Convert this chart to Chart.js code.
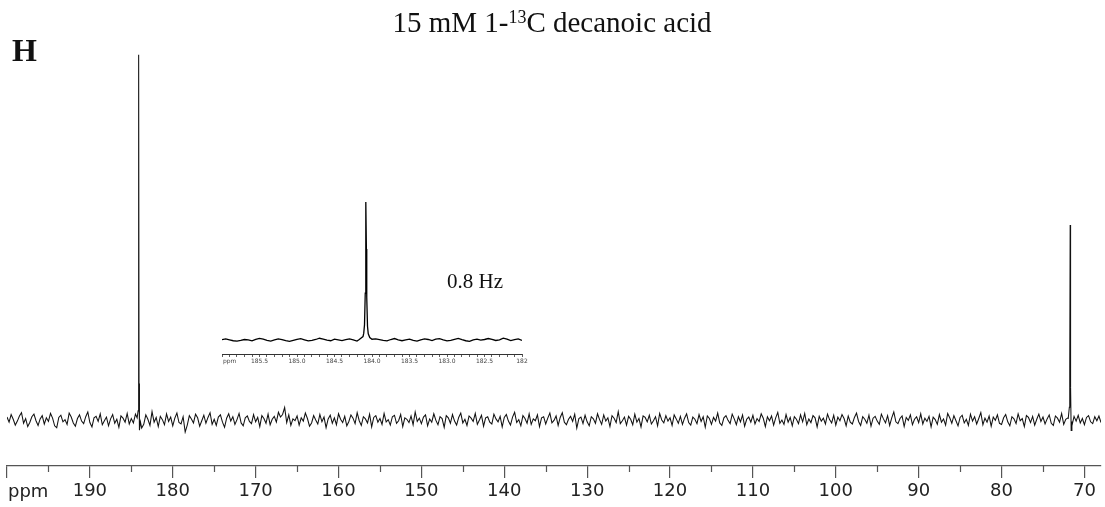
<!DOCTYPE html>
<html>
<head>
<meta charset="utf-8">
<script src="https://cdn.jsdelivr.net/npm/chart.js@4.4.1/dist/chart.umd.min.js"></script>
<style>
  html, body { margin: 0; padding: 0; background: #fff; }
  #wrap { position: relative; width: 1105px; height: 507px; }
  #main { position: absolute; left: 0; top: 0; }
  #inset { position: absolute; left: 200px; top: 190px; }
</style>
</head>
<body>
<div id="wrap">
  <canvas id="main" width="1105" height="507"></canvas>
  <canvas id="inset" width="340" height="180"></canvas>
</div>
<script>
// main spectrum: baseline noise sampled every 0.25 ppm from 200.00 down to 68.00 (20 per row = 5 ppm)
const mainStart = 200.0;
const mainStep = 0.25;
const mainNoise = [
  0.8, -0.6, 1.5, 0.2, -1.4, -0.3, 1.1, 2.0, -0.9, 0.4, -1.8, -0.7, 0.9, 1.6, -0.2, -1.5, 0.3, 1.2, -1.1, 0.6,
  -0.4, 1.8, 0.5, -1.6, -2.1, 0.7, 1.3, -0.5, 0.1, -1.2, 1.9, 0.8, -0.8, -1.7, 0.4, 1.4, -0.3, -1.0, 0.9, 2.2,
  -0.7, -1.9, 0.6, 1.0, -0.4, 1.7, -1.3, -0.2, 0.8, -1.6, 0.3, 1.5, -0.9, 0.2, -2.0, 1.1, 0.5, -0.6, 1.8, -1.1,
  0.4, -0.8, 1.6, 0.9, 0.0, -2.2, -1.2, 1.4, 0.2, -1.5, 2.3, -0.6, 0.7, -1.8, 1.0, 0.1, -1.3, 1.7, -0.4, 0.8,
  -1.6, 0.5, 1.9, -0.7, -1.1, 0.9, -3.3, -1.4, 1.2, 0.3, -0.8, 1.6, 0.6, -1.7, -0.2, 1.3, -0.9, 0.7, 2.0, -1.2,
  0.2, -1.5, 0.8, 1.4, -0.6, -2.0, 0.5, 1.7, -0.3, 0.9, -1.2, 0.1, 1.8, -0.8, -1.6, 0.6, 1.1, -0.4, -1.0, 1.5,
  -0.5, 0.7, -1.8, 1.2, 0.4, -0.9, 1.6, -1.3, 0.2, 1.0, -0.6, 2.1, 0.8, 1.5, 3.4, -0.7, 1.4, -1.5, 0.3, -0.2,
  1.1, -1.4, 0.6, -0.3, 1.9, 0.4, -1.7, -0.8, 1.2, 0.0, -1.1, 1.5, -0.5, 0.8, -2.1, 0.3, 1.3, -0.9, 0.6, -1.3,
  1.7, 0.2, -0.7, 1.0, -1.6, -0.4, 1.4, 0.5, -1.0, 2.0, -0.2, -1.5, 0.9, 0.3, -0.8, 1.6, -1.9, 0.7, 1.2, -0.6,
  0.4, -1.2, 1.8, -0.5, 0.1, -1.4, 0.9, 1.3, -0.9, -0.2, 1.5, -1.8, 0.6, 0.2, -0.7, 1.1, -1.3, 2.2, -0.4, 0.5,
  -1.0, 0.8, 1.4, -1.6, 0.3, -0.6, 1.7, -0.1, -1.3, 0.9, 0.4, -2.0, 1.2, 0.6, -0.9, 1.5, -0.3, -1.4, 0.7, 1.9,
  -0.8, 0.2, -1.5, 1.1, 0.5, -0.4, 1.8, -1.2, 0.0, 1.3, -1.7, 0.6, 0.9, -0.6, -1.1, 1.6, 0.3, -0.5, 1.0, -1.9,
  0.7, 1.5, -0.3, -1.4, 0.8, 2.1, -0.7, 0.1, -1.6, 1.2, 0.4, -0.9, 1.7, -1.2, 0.3, -0.2, 1.4, -1.8, 0.6, 0.9,
  -1.1, 0.5, 1.9, -0.8, -0.1, 1.1, -1.5, 0.7, 2.0, -0.6, -1.3, 0.2, 1.0, -0.4, 1.6, -2.2, 0.4, 0.8, -1.0, 1.3,
  -0.5, -1.6, 0.9, 0.3, -0.9, 1.7, 0.1, -1.2, 1.4, -0.3, 0.6, -1.8, 1.2, 0.5, -0.7, 2.3, -1.0, -0.2, 0.8, -1.4,
  1.0, 0.2, -1.3, 1.6, -0.6, 0.4, -1.9, 1.1, 0.7, -0.5, 1.3, -1.1, -0.2, 0.9, -1.6, 1.8, 0.0, -0.8, 1.2, -0.3,
  0.6, -1.5, 1.4, 0.3, -0.9, 1.0, -1.2, 0.5, 1.7, -0.7, -1.4, 0.8, 0.2, -1.0, 1.5, -0.4, 0.9, -2.0, 1.1, 0.4,
  -1.2, 0.7, -0.3, 1.9, -0.8, -1.5, 0.6, 1.2, -0.1, -1.0, 1.6, 0.3, -1.3, 0.9, -0.5, 1.4, -1.7, 0.2, 0.8, -0.6,
  1.3, -1.1, 0.4, -0.4, 1.7, 0.5, -1.8, 0.9, -0.2, 1.1, -1.4, 0.6, 2.1, -0.9, 0.0, -1.2, 1.5, -0.6, 0.7, -1.6,
  0.9, 0.2, -1.0, 1.4, -0.5, 1.8, -1.3, 0.3, -0.7, 1.2, 0.6, -1.9, 1.0, -0.3, 0.5, -1.1, 1.6, 0.1, -0.8, 1.3,
  -1.4, 0.8, -0.2, 1.5, 0.4, -1.6, 1.1, -0.6, -1.1, 0.7, 1.9, -0.4, -1.5, 0.9, 0.2, -0.9, 1.3, -1.7, 0.5, 1.0,
  -0.3, -1.2, 1.6, 0.3, -0.8, 1.2, -1.5, 0.6, 2.2, -0.5, -1.0, 0.4, 1.1, -1.8, 0.7, -0.1, 1.4, -1.3, 0.2, 0.9,
  -0.7, 1.7, -1.1, 0.5, -0.4, 1.0, -1.9, 0.8, 0.1, -1.2, 1.5, -0.6, 0.3, -1.4, 1.8, 0.6, -0.9, 1.2, -0.2, -1.6,
  0.7, 1.3, -0.8, 0.2, -1.5, 1.6, -0.3, 0.9, -1.1, 0.4, 2.0, -1.3, 0.5, -0.6, 1.1, -1.7, 0.8, -0.1, 1.4, -0.9,
  -1.2, 0.6, 1.5, -0.5, -1.6, 0.9, 0.3, -1.0, 1.7, -0.2, 0.4, -1.8, 1.2, 0.7, -0.7, 1.0, -1.4, 0.2, 1.6, -0.4,
  0.8, -1.1, 0.3, 1.4, -0.9, -1.5, 1.1, 0.5, -0.6, 1.8, -1.2, 0.2, 0.6, 0.0, -1.6, 1.0, -0.3, 1.3, -0.8, 0.4,
  -1.3, 0.7, 1.2, -0.5, -1.0, 0.9, -0.2, 1.1, -0.7
];
// carboxyl peak (~184.1 ppm) and second peak (~71.7 ppm)
const peakAPpm = [184.30, 184.18, 184.13, 184.10, 184.07, 184.02, 183.90];
const peakAInt = [0.6, 2.5, 12, 100, 10, -2.8, -0.5];
const peakBPpm = [71.95, 71.82, 71.77, 71.72, 71.67, 71.60, 71.52];
const peakBInt = [0.5, 3.5, 14, 53.4, 9, -2.9, -0.4];

const majorTicks = [200, 190, 180, 170, 160, 150, 140, 130, 120, 110, 100, 90, 80, 70];
const tickLabels = ['ppm', '190', '180', '170', '160', '150', '140', '130', '120', '110', '100', '90', '80', '70'];
const minorTicks = [195, 185, 175, 165, 155, 145, 135, 125, 115, 105, 95, 85, 75];

// inset: 186.0 to 182.0 ppm every 0.05 ppm
const insetStart = 186.0;
const insetStep = 0.05;
const insetNoise = [
  0.3, 0.9, 0.2, -0.5, -0.8, -0.3, 0.4, 0.1, -0.6, 0.5,
  1.2, 0.6, -0.2, -0.7, 0.1, 0.8, 0.3, -0.4, -0.9, -0.2,
  0.5, 1.0, 0.2, -0.6, -0.3, 0.4, 1.3, 0.7, 0.0, -0.5,
  0.6, 0.1, -0.4, 0.3, 0.9, 0.2, -0.7, -0.3, 0.0, 0.0,
  0.0, 0.8, 0.3, -0.2, -0.6, 0.4, 1.1, 0.2, -0.5, 0.1,
  0.7, -0.3, -0.8, 0.2, 0.9, 0.4, -0.4, 0.6, 1.0, 0.1,
  -0.6, -0.2, 0.5, 1.2, 0.3, -0.5, -0.9, 0.2, 0.7, -0.1,
  0.4, 1.1, 0.5, -0.3, 0.2, 1.4, 0.6, -0.4, 0.3, 0.8,
  -0.2
];
const insetPeakPpm = [184.17, 184.12, 184.11, 184.10, 184.09, 184.085, 184.08, 184.075, 184.07, 184.06, 184.05, 184.03, 184.00];
const insetPeakInt = [0.4, 2.5, 5, 11, 34, 70, 100, 66, 31, 10, 4.5, 1.8, 0.6];
const insetLabelValues = [186, 185.5, 185, 184.5, 184, 183.5, 183, 182.5, 182];
const insetLabels = ['ppm', '185.5', '185.0', '184.5', '184.0', '183.5', '183.0', '182.5', '182'];

const titleParts = ['15 mM 1-', '13', 'C decanoic acid'];
const panelLetter = 'H';
const widthNote = '0.8 Hz';

function buildTrace(start, step, noise, peaks) {
  const windows = peaks.map(([p]) => [Math.min(...p), Math.max(...p)]);
  const pts = [];
  noise.forEach((v, i) => {
    const x = +(start - i * step).toFixed(3);
    if (windows.some(([lo, hi]) => x >= lo - 1e-9 && x <= hi + 1e-9)) return;
    pts.push({ x, y: v });
  });
  peaks.forEach(([p, h]) => p.forEach((x, i) => pts.push({ x, y: h[i] })));
  return pts.sort((a, b) => b.x - a.x);
}

const mainText = {
  id: 'mainText',
  afterDraw(chart) {
    const { ctx, chartArea, scales } = chart;
    const x = scales.x;
    ctx.save();
    ctx.strokeStyle = '#555';
    ctx.lineWidth = 1.2;
    ctx.beginPath();
    minorTicks.forEach(v => {
      const px = Math.round(x.getPixelForValue(v)) + 0.5;
      ctx.moveTo(px, chartArea.bottom);
      ctx.lineTo(px, chartArea.bottom + 6);
    });
    ctx.stroke();

    ctx.fillStyle = '#222';
    ctx.textAlign = 'left';
    ctx.textBaseline = 'alphabetic';
    ctx.font = '18px "DejaVu Sans"';
    ctx.fillText(tickLabels[0], x.getPixelForValue(majorTicks[0]) + 1, 497);

    // title with superscript
    ctx.fillStyle = '#111';
    const big = '29px "Liberation Serif"', small = '18px "Liberation Serif"';
    ctx.font = big;
    const w1 = ctx.measureText(titleParts[0]).width;
    const w3 = ctx.measureText(titleParts[2]).width;
    ctx.font = small;
    const w2 = ctx.measureText(titleParts[1]).width;
    let tx = 552 - (w1 + w2 + w3) / 2;
    ctx.font = big;
    ctx.fillText(titleParts[0], tx, 32);
    tx += w1;
    ctx.font = small;
    ctx.fillText(titleParts[1], tx, 23);
    tx += w2;
    ctx.font = big;
    ctx.fillText(titleParts[2], tx, 32);

    ctx.font = 'bold 32px "Liberation Serif"';
    ctx.fillText(panelLetter, 12, 61);

    ctx.font = '21px "Liberation Serif"';
    ctx.fillText(widthNote, 447, 288);
    ctx.restore();
  }
};

new Chart(document.getElementById('main'), {
  type: 'line',
  data: {
    datasets: [{
      data: buildTrace(mainStart, mainStep, mainNoise, [[peakAPpm, peakAInt], [peakBPpm, peakBInt]]),
      borderColor: '#111',
      borderWidth: 1.05,
      pointRadius: 0,
      tension: 0,
      fill: false,
    }],
  },
  options: {
    responsive: false,
    animation: false,
    devicePixelRatio: 1,
    layout: { padding: { left: 7, right: 4, top: 30, bottom: 0 } },
    plugins: { legend: { display: false }, tooltip: { enabled: false }, title: { display: false } },
    scales: {
      x: {
        type: 'linear',
        reverse: true,
        min: 68,
        max: 200,
        afterBuildTicks: s => { s.ticks = majorTicks.map(v => ({ value: v })); },
        afterFit: s => { s.height = 41; },
        ticks: {
          autoSkip: false,
          maxRotation: 0,
          padding: 3,
          color: '#222',
          font: { family: 'DejaVu Sans', size: 18 },
          callback: v => {
            const i = majorTicks.indexOf(v);
            return i > 0 ? tickLabels[i] : '';
          },
        },
        grid: { drawOnChartArea: false, tickLength: 12, color: '#555', lineWidth: 1.2 },
        border: { display: true, color: '#555', width: 1.2 },
      },
      y: { display: false, min: -12.6, max: 106.8 },
    },
  },
  plugins: [mainText],
});

const insetText = {
  id: 'insetText',
  afterDraw(chart) {
    const { ctx, scales } = chart;
    ctx.save();
    ctx.fillStyle = '#444';
    ctx.font = '6px "DejaVu Sans"';
    ctx.textAlign = 'left';
    ctx.textBaseline = 'alphabetic';
    ctx.fillText(insetLabels[0], scales.x.getPixelForValue(insetLabelValues[0]) + 1, 173);
    ctx.restore();
  }
};

new Chart(document.getElementById('inset'), {
  type: 'line',
  data: {
    datasets: [{
      data: buildTrace(insetStart, insetStep, insetNoise, [[insetPeakPpm, insetPeakInt]]),
      borderColor: '#000',
      borderWidth: 1.3,
      pointRadius: 0,
      tension: 0,
      fill: false,
    }],
  },
  options: {
    responsive: false,
    animation: false,
    devicePixelRatio: 1,
    layout: { padding: { left: 22, right: 18, top: 10, bottom: 0 } },
    plugins: { legend: { display: false }, tooltip: { enabled: false } },
    scales: {
      x: {
        type: 'linear',
        reverse: true,
        min: 182,
        max: 186,
        afterFit: s => { s.height = 16; },
        ticks: {
          stepSize: 0.1,
          autoSkip: false,
          maxRotation: 0,
          padding: 1,
          color: '#444',
          font: { family: 'DejaVu Sans', size: 6 },
          callback: v => {
            const i = insetLabelValues.findIndex(t => Math.abs(t - v) < 1e-6);
            return i > 0 ? insetLabels[i] : '';
          },
        },
        grid: { drawOnChartArea: false, tickLength: 3, color: '#333', lineWidth: 0.8 },
        border: { display: true, color: '#333', width: 1 },
      },
      y: { display: false, min: -10.1, max: 101.4 },
    },
  },
  plugins: [insetText],
});
</script>
</body>
</html>
